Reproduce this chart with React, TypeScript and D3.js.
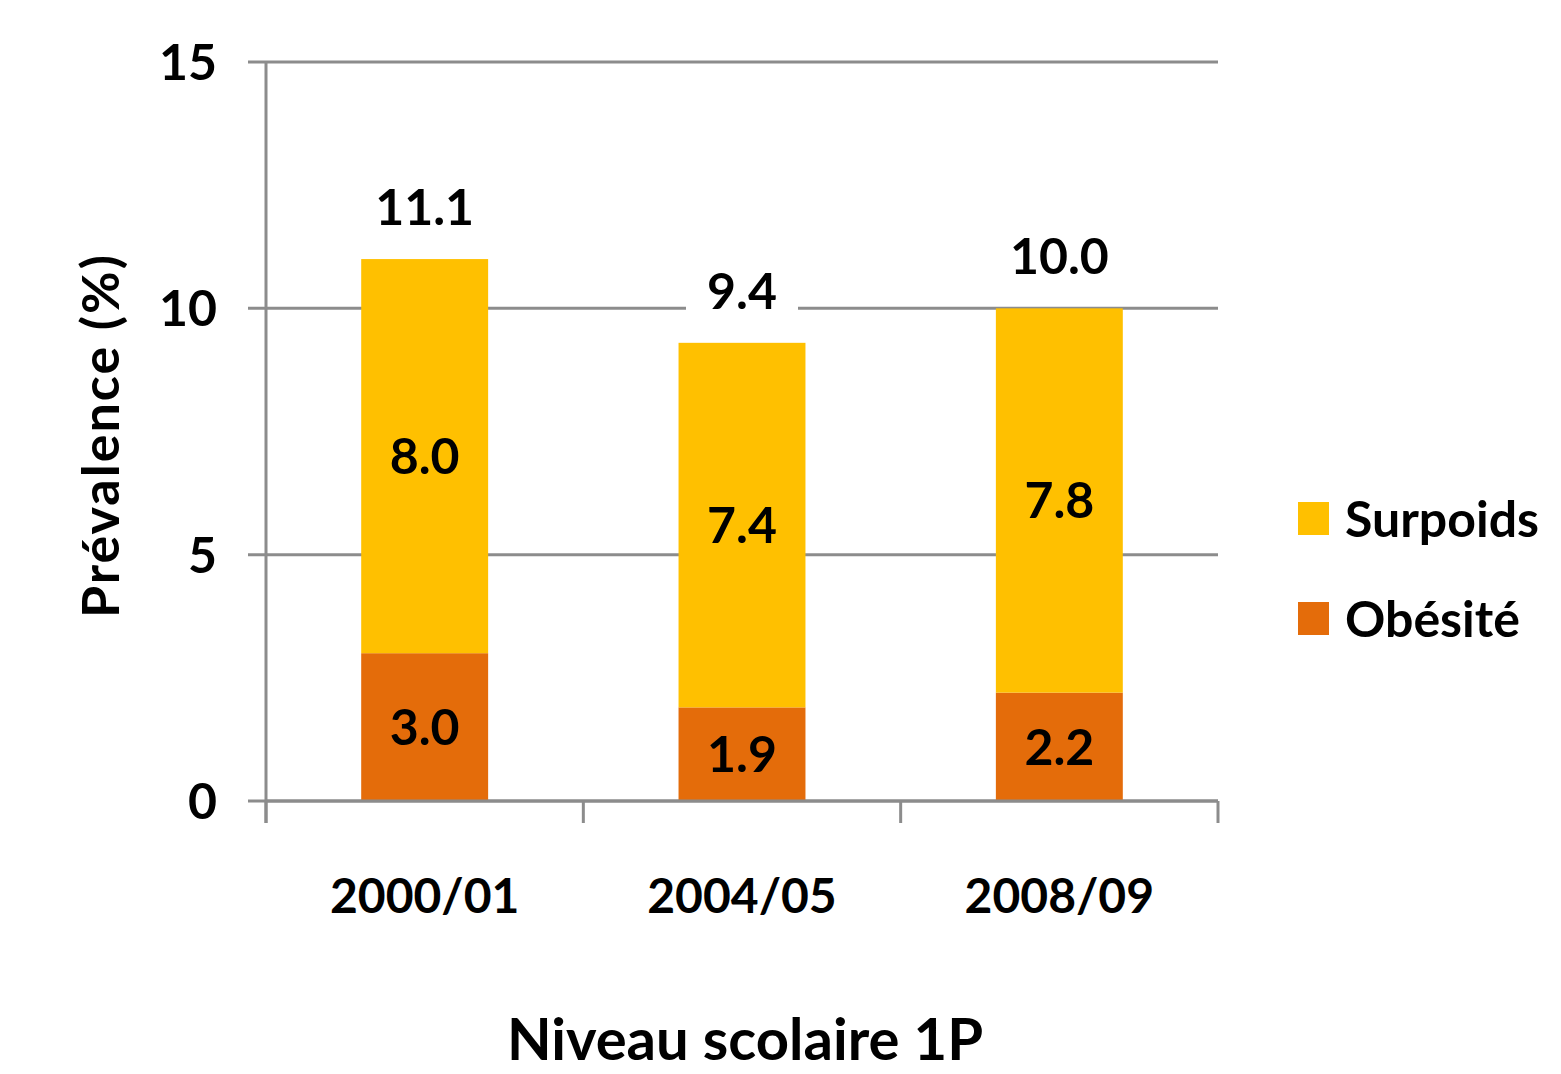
import React from 'react';
import * as d3 from 'd3';

const categories = ['2000/01', '2004/05', '2008/09'];
const obesite = [3.0, 1.9, 2.2];
const surpoids = [8.0, 7.4, 7.8];
const totals = ['11.1', '9.4', '10.0'];
const yTicks = [0, 5, 10, 15];
const seriesNames = ['Surpoids', 'Obésité'];

const W = 1561;
const H = 1074;
const margin = { left: 266, right: 343, top: 62, bottom: 273 };
const FONT = 'Lato, "Open Sans", sans-serif';
const GRID = '#8c8c8c';
const colors: Record<string, string> = { Surpoids: '#ffc000', 'Obésité': '#e46c0a' };

const App: React.FC = () => {
  const x = d3.scaleBand()
    .domain(categories)
    .range([margin.left, W - margin.right])
    .paddingInner(0.6)
    .paddingOuter(0.3);

  const y = d3.scaleLinear()
    .domain([0, 15])
    .range([H - margin.bottom, margin.top]);

  const rows = categories.map((c, i) => ({ cat: c, obesite: obesite[i], surpoids: surpoids[i] }));
  const stacked = d3.stack<any>().keys(['obesite', 'surpoids'])(rows);
  const keyName: Record<string, string> = { obesite: 'Obésité', surpoids: 'Surpoids' };

  const x0 = margin.left;
  const x1 = W - margin.right;
  const step = x.step();
  const boundaries = d3.range(categories.length + 1).map(i => x0 + i * step);

  return (
    <svg width={W} height={H} style={{ position: 'absolute', left: 0, top: 0, background: '#fff' }}>
      {/* grid lines + y ticks */}
      {yTicks.map(t => (
        <g key={t}>
          <line x1={x0 - 18} x2={x1} y1={y(t)} y2={y(t)} stroke={GRID} strokeWidth={3} />
          <text x={217} y={y(t)} dy="0.36em" textAnchor="end" fontFamily={FONT} fontWeight={700} fontSize={50} fill="#000">{t}</text>
        </g>
      ))}
      {/* y axis line */}
      <line x1={x0} x2={x0} y1={y(15)} y2={y(0) + 22} stroke={GRID} strokeWidth={3} />
      {/* x ticks */}
      {boundaries.map((bx, i) => (
        <line key={i} x1={bx} x2={bx} y1={y(0)} y2={y(0) + 22} stroke={GRID} strokeWidth={3} />
      ))}

      {/* bars */}
      {stacked.map(layer => (
        <g key={layer.key} fill={colors[keyName[layer.key]]}>
          {layer.map((d, i) => (
            <rect key={i} x={x(categories[i])} width={x.bandwidth()} y={y(d[1])} height={y(d[0]) - y(d[1])} />
          ))}
        </g>
      ))}
      <line x1={x0} x2={x1} y1={y(0)} y2={y(0)} stroke={GRID} strokeWidth={3} />

      {/* segment labels */}
      {stacked.map(layer => layer.map((d, i) => (
        <text key={layer.key + i} x={x(categories[i])! + x.bandwidth() / 2} y={(y(d[0]) + y(d[1])) / 2} dy="0.36em"
          textAnchor="middle" fontFamily={FONT} fontWeight={700} fontSize={50} fill="#000">
          {(d[1] - d[0]).toFixed(1)}
        </text>
      )))}

      {/* total labels */}
      {categories.map((c, i) => {
        const top = y(obesite[i] + surpoids[i]);
        const cx = x(c)! + x.bandwidth() / 2;
        const ly = top - 52;
        return (
          <g key={c}>
            <rect x={cx - 56} y={ly - 30} width={112} height={60} fill="#fff" />
            <text x={cx} y={ly} dy="0.36em" textAnchor="middle" fontFamily={FONT} fontWeight={700} fontSize={50} fill="#000">{totals[i]}</text>
          </g>
        );
      })}

      {/* category labels */}
      {categories.map(c => (
        <text key={c} x={x(c)! + x.bandwidth() / 2} y={896} dy="0.36em" textAnchor="middle"
          fontFamily={FONT} fontWeight={700} fontSize={48} fill="#000">{c}</text>
      ))}

      {/* axis titles */}
      <text transform={`translate(100, ${(y(0) + y(15)) / 2 + 4}) rotate(-90)`} textAnchor="middle" dy="0.36em"
        fontFamily={FONT} fontWeight={700} fontSize={52} letterSpacing={2} fill="#000">Prévalence (%)</text>
      <text x={745} y={1060} textAnchor="middle" fontFamily={FONT} fontWeight={700} fontSize={58} fill="#000">Niveau scolaire 1P</text>

      {/* legend */}
      {seriesNames.map((s, i) => (
        <g key={s} transform={`translate(1298, ${502 + i * 100})`}>
          <rect width={31} height={33} fill={colors[s]} />
          <text x={47} y={17} dy="0.36em" fontFamily={FONT} fontWeight={700} fontSize={50} fill="#000">{s}</text>
        </g>
      ))}
    </svg>
  );
};

export default App;
